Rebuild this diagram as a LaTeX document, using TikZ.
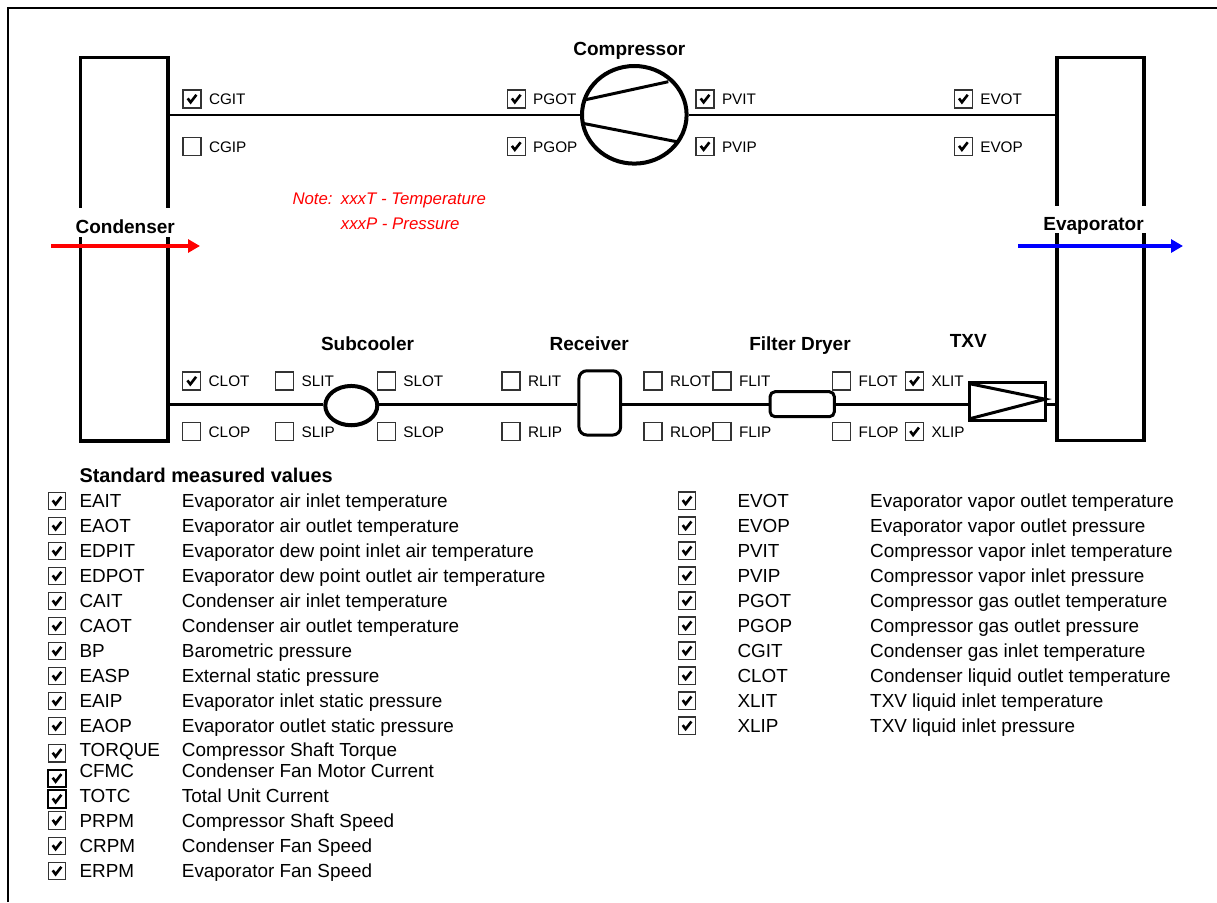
\documentclass[tikz,border=0pt]{standalone}
\usepackage{fontspec}
\setmainfont{Liberation Sans}
\usetikzlibrary{arrows.meta,positioning,shapes.geometric}
\newcommand{\mcb}[5]{%
  \node[#4] (#1) at (#2,#3) {};
  \node[lab, right=7.2pt of #1] (#1-t) {#5};}
\newcommand{\lrow}[9]{%
  \node[#7] (#1) at (#2,#3) {};
  \node[lst] (#1-c) at (#4,#6) {#8};
  \node[lst] (#1-d) at (#5,#6) {#9};}
\begin{document}
\begin{tikzpicture}[x=1pt,y=-1pt,
  pipe/.style={line width=2.5pt},
  hx/.style={draw, line width=3.5pt, inner sep=0pt},
  comp/.style={draw, line width=3pt, inner sep=0pt, fill=white},
  chkmark/.style={path picture={\draw[draw=black, line width=2.6pt, line join=miter]
     ([shift={(-4.3,-0.6)}]path picture bounding box.center) --
     ([shift={(-1.4,3.3)}]path picture bounding box.center) --
     ([shift={(4.4,-4.2)}]path picture bounding box.center);}},
  cb/.style={draw=black!80, line width=1.2pt, minimum size=18pt, inner sep=0pt, fill=white},
  chk/.style={cb, chkmark},
  lcb/.style={cb, minimum size=17.3pt},
  lchk/.style={lcb, chkmark},
  lchkb/.style={lchk, draw=black, line width=2pt},
  lab/.style={inner sep=0pt, anchor=west, font=\fontsize{15.3pt}{18pt}\selectfont, text height=11pt, text depth=0pt},
  lst/.style={inner sep=0pt, anchor=west, font=\fontsize{18.9pt}{22pt}\selectfont, text height=13.5pt, text depth=0pt},
  hd/.style={inner sep=0pt, font=\bfseries\fontsize{19pt}{22pt}\selectfont, text height=13.6pt, text depth=0pt},
  note/.style={inner sep=0pt, anchor=west, text=red, font=\itshape\fontsize{16.8pt}{19pt}\selectfont, text height=12pt, text depth=0pt},
  airarrow/.style={line width=4pt, -{Triangle[length=12pt,width=13pt]}}
]
\useasboundingbox (0,0) rectangle (1217,902);
% frame
\draw[line width=2pt] (8,902) -- (8,8) -- (1217,8);

% heat exchangers
\node[hx, minimum width=87.3pt, minimum height=383.3pt] (cond) at (124.3,249.3) {};
\node[hx, minimum width=86.8pt, minimum height=382.8pt] (evap) at (1100.4,249.1) {};
\fill[white] (74,208) rectangle (176,237);
\fill[white] (1040,206) rectangle (1149,233);
\node[hd] (condl) at (125.2,226.3) {Condenser};
\node[hd] (evapl) at (1093.5,223.3) {Evaporator};
\coordinate (ra1) at (51,246); \coordinate (ra2) at (200,246);
\coordinate (ba1) at (1018,246); \coordinate (ba2) at (1183,246);
\draw[airarrow, red] (ra1) -- (ra2);
\draw[airarrow, blue] (ba1) -- (ba2);

% compressor
\node[draw, ellipse, line width=4pt, minimum width=104.6pt, minimum height=97.6pt, inner sep=0pt] (comp) at (634.3,114.8) {};
\draw[line width=3pt] (584.3,100) -- (668.3,81.7);
\draw[line width=3pt] (582.7,123.3) -- (676.7,141.7);
\draw[pipe] (cond.east |- comp.west) -- (comp.west);
\draw[pipe] (comp.east) -- (comp.east -| evap.west);
\node[hd] (compl) at (629.3,48.3) {Compressor};

% liquid line components
\node[draw, ellipse, line width=4pt, minimum width=52pt, minimum height=39.3pt, inner sep=0pt] (subc) at (351.3,405.6) {};
\node[comp, rounded corners=8pt, minimum width=41.7pt, minimum height=64.3pt] (recv) at (599.8,402.9) {};
\node[comp, rounded corners=5pt, minimum width=64.3pt, minimum height=25pt] (filt) at (802.2,404.2) {};
\node[comp, minimum width=75.7pt, minimum height=37.7pt] (txv) at (1007.8,401.2) {};
\draw[line width=3pt] ([shift={(2,3)}]txv.north west) -- ([shift={(-2,-2)}]txv.east) -- ([shift={(2,-3)}]txv.south west);
\coordinate (bp) at (0,404.3);
\draw[pipe] (cond.east |- bp) -- (subc.west |- bp);
\draw[pipe] (subc.east |- bp) -- (recv.west |- bp);
\draw[pipe] (recv.east |- bp) -- (filt.west |- bp);
\draw[pipe] (filt.east |- bp) -- (txv.west |- bp);
\draw[pipe] (txv.east |- bp) -- (evap.west |- bp);
\node[hd] (subcl) at (367.5,344) {Subcooler};
\node[hd] (recvl) at (589.2,344) {Receiver};
\node[hd] (filtl) at (800,343.5) {Filter Dryer};
\node[hd] (txvl) at (968.3,340.5) {TXV};

% top checkboxes
\mcb{cgit}{192}{99}{chk}{CGIT}
\mcb{cgip}{192}{146.5}{cb}{CGIP}
\mcb{pgot}{516.2}{99}{chk}{PGOT}
\mcb{pgop}{516.2}{146.5}{chk}{PGOP}
\mcb{pvit}{705}{99}{chk}{PVIT}
\mcb{pvip}{705}{146.5}{chk}{PVIP}
\mcb{evot}{963.3}{99}{chk}{EVOT}
\mcb{evop}{963.3}{146.5}{chk}{EVOP}

% bottom checkboxes
\mcb{clot}{191.7}{381}{chk}{CLOT}
\mcb{clop}{191.7}{431.7}{cb}{CLOP}
\mcb{slit}{284.7}{381}{cb}{SLIT}
\mcb{slip}{284.7}{431.7}{cb}{SLIP}
\mcb{slot}{386.3}{381}{cb}{SLOT}
\mcb{slop}{386.3}{431.7}{cb}{SLOP}
\mcb{rlit}{511}{381}{cb}{RLIT}
\mcb{rlip}{511}{431.7}{cb}{RLIP}
\mcb{rlot}{653}{381}{cb}{RLOT}
\mcb{rlop}{653}{431.7}{cb}{RLOP}
\mcb{flit}{722}{381}{cb}{FLIT}
\mcb{flip}{722}{431.7}{cb}{FLIP}
\mcb{flot}{841.7}{381}{cb}{FLOT}
\mcb{flop}{841.7}{431.7}{cb}{FLOP}
\mcb{xlit}{914.5}{381}{chk}{XLIT}
\mcb{xlip}{914.5}{431.7}{chk}{XLIP}

% note
\node[note] (n1) at (292.3,198.2) {Note:};
\node[note] (n2) at (340.7,198.2) {xxxT - Temperature};
\node[note] (n3) at (340.7,223) {xxxP - Pressure};

% list
\node[hd, anchor=west, font=\bfseries\fontsize{19.9pt}{23pt}\selectfont, text height=14.2pt] (smv) at (79.3,475) {Standard measured values};
\lrow{l1}{57}{501}{79.3}{181.7}{501}{lchk}{EAIT}{Evaporator air inlet temperature}
\lrow{l2}{57}{526}{79.3}{181.7}{526}{lchk}{EAOT}{Evaporator air outlet temperature}
\lrow{l3}{57}{551}{79.3}{181.7}{551}{lchk}{EDPIT}{Evaporator dew point inlet air temperature}
\lrow{l4}{57}{576}{79.3}{181.7}{576}{lchk}{EDPOT}{Evaporator dew point outlet air temperature}
\lrow{l5}{57}{601}{79.3}{181.7}{601}{lchk}{CAIT}{Condenser air inlet temperature}
\lrow{l6}{57}{626}{79.3}{181.7}{626}{lchk}{CAOT}{Condenser air outlet temperature}
\lrow{l7}{57}{651}{79.3}{181.7}{651}{lchk}{BP}{Barometric pressure}
\lrow{l8}{57}{676}{79.3}{181.7}{676}{lchk}{EASP}{External static pressure}
\lrow{l9}{57}{701}{79.3}{181.7}{701}{lchk}{EAIP}{Evaporator inlet static pressure}
\lrow{l10}{57}{726}{79.3}{181.7}{726}{lchk}{EAOP}{Evaporator outlet static pressure}
\lrow{l11}{57}{753.3}{79.3}{181.7}{749.7}{lchk}{TORQUE}{Compressor Shaft Torque}
\lrow{l12}{57}{778.3}{79.3}{181.7}{770.5}{lchkb}{CFMC}{Condenser Fan Motor Current}
\lrow{l13}{57}{799}{79.3}{181.7}{795.5}{lchkb}{TOTC}{Total Unit Current}
\lrow{l14}{57}{820.5}{79.3}{181.7}{820.3}{lchk}{PRPM}{Compressor Shaft Speed}
\lrow{l15}{57}{845.8}{79.3}{181.7}{845.3}{lchk}{CRPM}{Condenser Fan Speed}
\lrow{l16}{57}{871}{79.3}{181.7}{870.5}{lchk}{ERPM}{Evaporator Fan Speed}

\lrow{r1}{687}{500.7}{737.3}{870}{500.7}{lchk}{EVOT}{Evaporator vapor outlet temperature}
\lrow{r2}{687}{525.7}{737.3}{870}{525.7}{lchk}{EVOP}{Evaporator vapor outlet pressure}
\lrow{r3}{687}{550.7}{737.3}{870}{550.7}{lchk}{PVIT}{Compressor vapor inlet temperature}
\lrow{r4}{687}{575.7}{737.3}{870}{575.7}{lchk}{PVIP}{Compressor vapor inlet pressure}
\lrow{r5}{687}{600.7}{737.3}{870}{600.7}{lchk}{PGOT}{Compressor gas outlet temperature}
\lrow{r6}{687}{625.7}{737.3}{870}{625.7}{lchk}{PGOP}{Compressor gas outlet pressure}
\lrow{r7}{687}{650.7}{737.3}{870}{650.7}{lchk}{CGIT}{Condenser gas inlet temperature}
\lrow{r8}{687}{675.7}{737.3}{870}{675.7}{lchk}{CLOT}{Condenser liquid outlet temperature}
\lrow{r9}{687}{700.7}{737.3}{870}{700.7}{lchk}{XLIT}{TXV liquid inlet temperature}
\lrow{r10}{687}{725.7}{737.3}{870}{725.7}{lchk}{XLIP}{TXV liquid inlet pressure}
\end{tikzpicture}
\end{document}
